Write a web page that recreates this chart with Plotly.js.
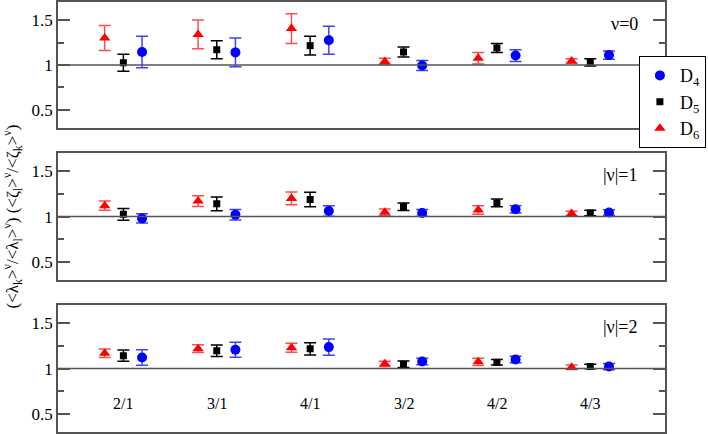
<!DOCTYPE html>
<html>
<head>
<meta charset="utf-8">
<script src="https://cdn.plot.ly/plotly-3.0.1.min.js"></script>
</head>
<body style="margin:0">
<div id="plot"></div>
<script>
// ratio categories (k/l)
var ratios = ["2/1", "3/1", "4/1", "3/2", "4/2", "4/3"];
var panels = ["\u03bd=0", "|\u03bd|=1", "|\u03bd|=2"];

// nu = 0
var d4_nu0 = [1.145, 1.14, 1.275, 0.995, 1.105, 1.11];
var d4_nu0_err = [0.175, 0.16, 0.155, 0.055, 0.065, 0.045];
var d5_nu0 = [1.025, 1.17, 1.215, 1.145, 1.19, 1.03];
var d5_nu0_err = [0.095, 0.10, 0.105, 0.055, 0.05, 0.04];
var d6_nu0 = [1.30, 1.34, 1.405, 1.04, 1.075, 1.045];
var d6_nu0_err = [0.14, 0.16, 0.165, 0.035, 0.065, 0.025];

// |nu| = 1
var d4_nu1 = [0.98, 1.02, 1.062, 1.04, 1.08, 1.044];
var d4_nu1_err = [0.05, 0.058, 0.058, 0.037, 0.04, 0.03];
var d5_nu1 = [1.025, 1.14, 1.187, 1.108, 1.15, 1.04];
var d5_nu1_err = [0.065, 0.076, 0.08, 0.04, 0.042, 0.03];
var d6_nu1 = [1.12, 1.17, 1.20, 1.048, 1.073, 1.033];
var d6_nu1_err = [0.05, 0.058, 0.07, 0.035, 0.047, 0.025];

// |nu| = 2
var d4_nu2 = [1.122, 1.208, 1.237, 1.078, 1.10, 1.022];
var d4_nu2_err = [0.085, 0.082, 0.089, 0.035, 0.035, 0.035];
var d5_nu2 = [1.142, 1.196, 1.218, 1.048, 1.07, 1.022];
var d5_nu2_err = [0.062, 0.064, 0.067, 0.035, 0.03, 0.025];
var d6_nu2 = [1.168, 1.22, 1.23, 1.052, 1.075, 1.015];
var d6_nu2_err = [0.047, 0.043, 0.05, 0.03, 0.04, 0.025];

var serif = "Liberation Serif";
var edge = "#555";

var series = [
  {name: "D<sub>4</sub>", shift: 0.2, color: "blue", bar: "rgba(0,0,255,0.75)", symbol: "circle", size: 10,
   y: [d4_nu0, d4_nu1, d4_nu2], e: [d4_nu0_err, d4_nu1_err, d4_nu2_err]},
  {name: "D<sub>5</sub>", shift: 0, color: "black", bar: "black", symbol: "square", size: 7,
   y: [d5_nu0, d5_nu1, d5_nu2], e: [d5_nu0_err, d5_nu1_err, d5_nu2_err]},
  {name: "D<sub>6</sub>", shift: -0.2, color: "red", bar: "rgba(255,0,0,0.7)", symbol: "triangle-up", size: 10,
   y: [d6_nu0, d6_nu1, d6_nu2], e: [d6_nu0_err, d6_nu1_err, d6_nu2_err]}
];

var traces = [];
for (var p = 0; p < 3; p++) {
  var sfx = p === 0 ? "" : String(p + 1);
  series.forEach(function (s) {
    traces.push({
      x: ratios.map(function (r, i) { return i + 1 + s.shift; }),
      y: s.y[p],
      xaxis: "x" + sfx,
      yaxis: "y" + sfx,
      type: "scatter",
      mode: "markers",
      name: s.name,
      showlegend: p === 0,
      marker: {color: s.color, symbol: s.symbol, size: s.size},
      error_y: {type: "data", array: s.e[p], visible: true, color: s.bar, thickness: 1.5, width: 6}
    });
  });
}

var domains = [[0.707, 1], [0.353, 0.649], [0, 0.295]];

var layout = {
  width: 708,
  height: 434,
  margin: {l: 58, r: 39, t: 2, b: 2},
  showlegend: true,
  legend: {
    x: 0.957, xanchor: "left", y: 0.874, yanchor: "top",
    bgcolor: "white", bordercolor: "black", borderwidth: 1,
    font: {family: serif, size: 18, color: "#000"}
  },
  shapes: [],
  annotations: []
};

for (var p = 0; p < 3; p++) {
  var sfx = p === 0 ? "" : String(p + 1);
  layout["xaxis" + sfx] = {
    domain: [0, 1], anchor: "y" + sfx, range: [0.3, 6.8],
    showline: true, linecolor: edge, linewidth: 1.5, mirror: true,
    showgrid: false, zeroline: false, showticklabels: false, ticks: ""
  };
  layout["yaxis" + sfx] = {
    domain: domains[p], anchor: "x" + sfx, range: [0.3, 1.7],
    showline: true, linecolor: edge, linewidth: 1.5, mirror: "ticks",
    showgrid: false, zeroline: false,
    dtick: 0.5,
    ticks: "inside", ticklen: 12, tickwidth: 1.5, tickcolor: edge,
    tickfont: {family: serif, size: 17, color: "#000"},
    minor: {dtick: 0.25, ticks: "inside", ticklen: 6, tickwidth: 1.5, tickcolor: edge}
  };
  layout.shapes.push({
    type: "line", xref: "x" + sfx + " domain", yref: "y" + sfx,
    x0: 0, x1: 1, y0: 1, y1: 1, line: {color: edge, width: 1.5}
  });
  layout.annotations.push({
    xref: "x" + sfx, yref: "y" + sfx, x: 6.53, y: 1.46,
    xanchor: "right", yanchor: "middle", showarrow: false,
    text: panels[p], font: {family: serif, size: 18, color: "#000"}
  });
}

layout.yaxis2.title = {
  text: "(&lt;\u03bb<sub>k</sub>&gt;<sup>\u03bd</sup>/&lt;\u03bb<sub>l</sub>&gt;<sup>\u03bd</sup>) (&lt;\u03b6<sub>l</sub>&gt;<sup>\u03bd</sup>/&lt;\u03b6<sub>k</sub>&gt;<sup>\u03bd</sup>)",
  font: {family: serif, size: 17, color: "#000"},
  standoff: 12
};

ratios.forEach(function (r, i) {
  layout.annotations.push({
    xref: "x3", yref: "y3", x: i + 1, y: 0.62,
    showarrow: false, text: r,
    font: {family: serif, size: 16, color: "#000"}
  });
});

Plotly.newPlot("plot", traces, layout, {displayModeBar: false});
</script>
</body>
</html>
